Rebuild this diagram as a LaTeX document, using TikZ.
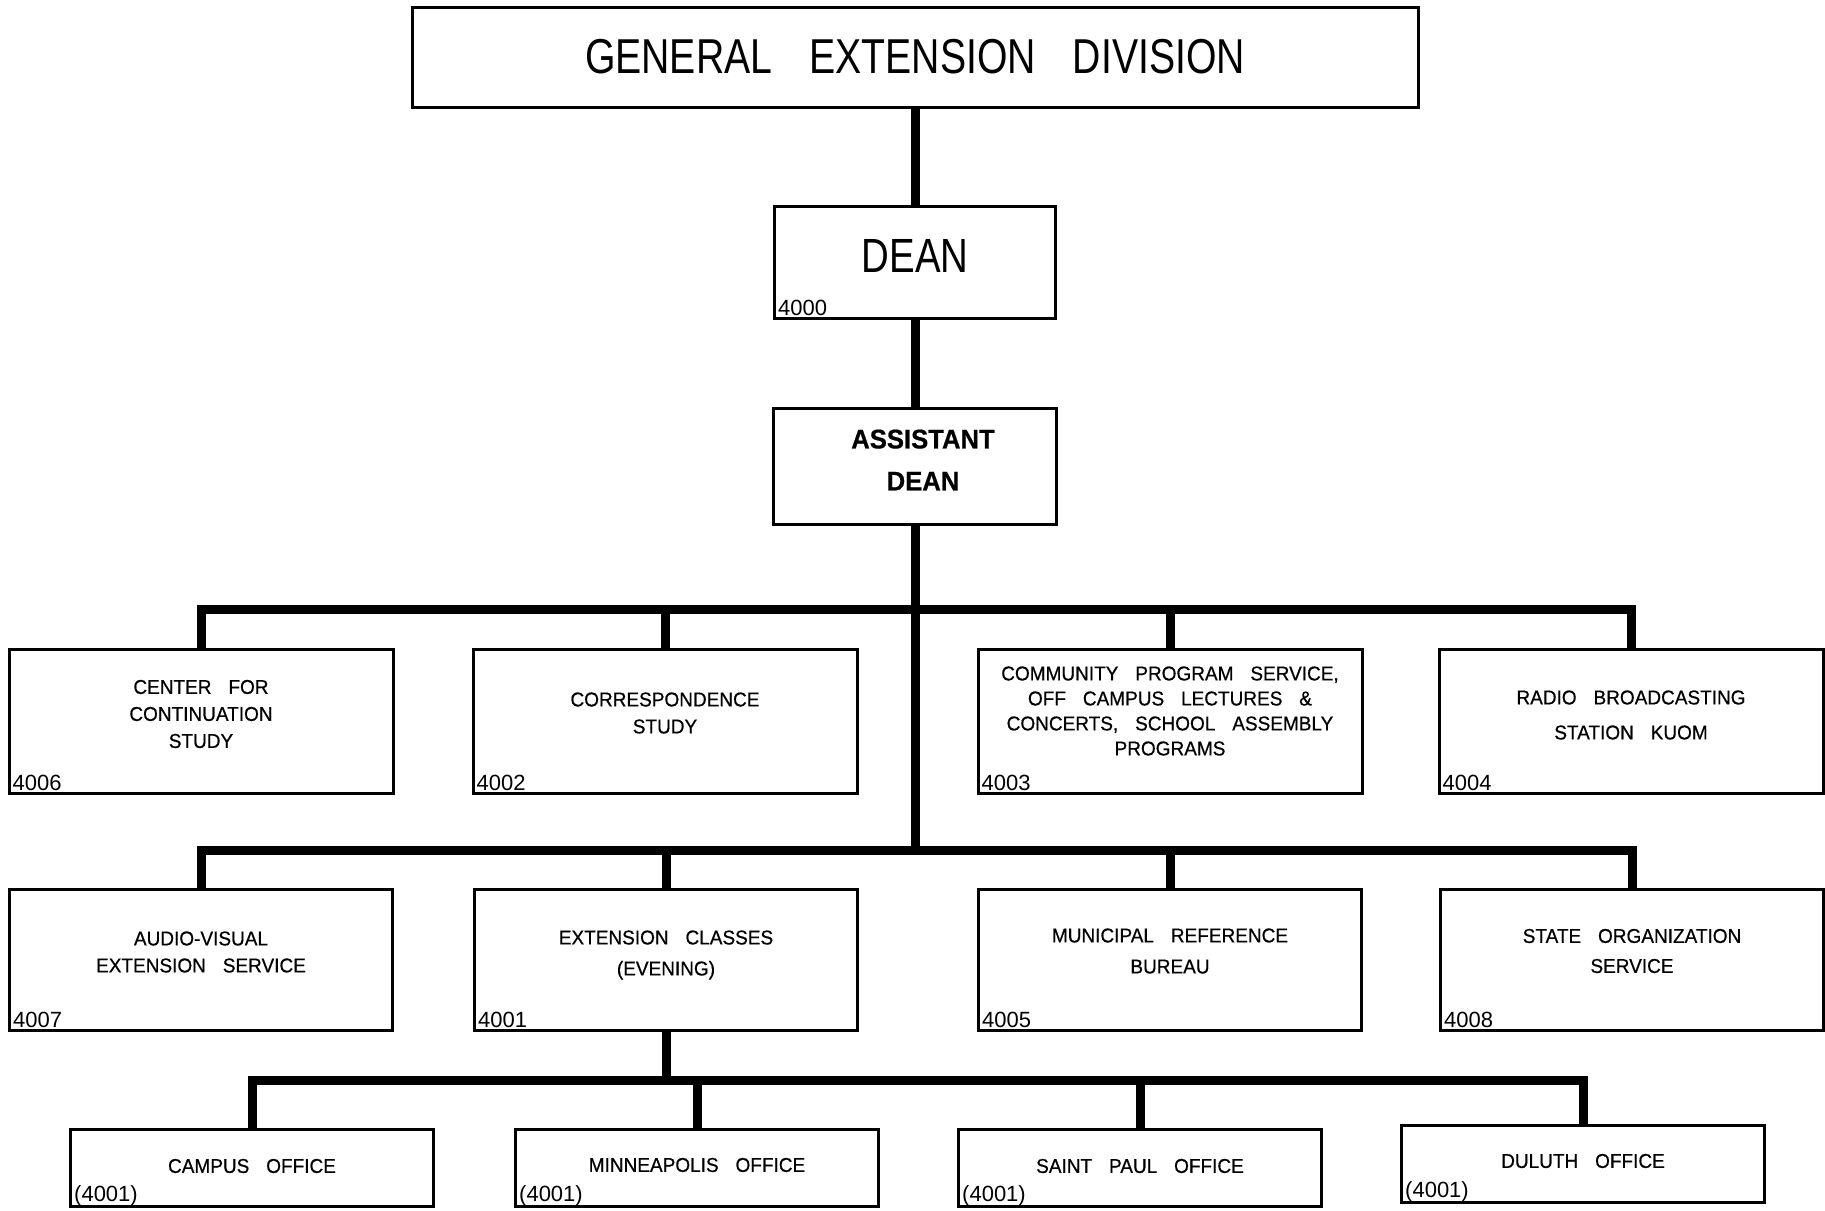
\documentclass[tikz,border=0pt]{standalone}
\usepackage{fontspec}
\setmainfont[FakeStretch=0.95, FakeBold=0.6, WordSpace=3.2]{Liberation Sans}
\newfontfamily\condfont[FakeStretch=0.8, WordSpace=3.4]{Liberation Sans}
\newfontfamily\numfont{Liberation Sans}

\tikzset{
  unit/.style={draw, line width=3pt, inner sep=0pt},
  rowone/.style={unit, minimum width=384pt, minimum height=144pt},
  rowtwo/.style={unit, minimum width=383pt, minimum height=141pt},
  office/.style={unit, minimum width=363pt, minimum height=77pt},
  caption/.style={align=center, inner sep=0pt, font=\fontsize{20}{27}\selectfont},
  code/.style={anchor=south west, inner sep=0pt, xshift=5pt, yshift=4pt,
    font=\numfont\fontsize{22}{22}\selectfont},
  link/.style={line width=9pt}
}

\begin{document}
\begin{tikzpicture}[x=1pt,y=-1pt]
    \useasboundingbox (0,0) rectangle (1825,1210);

    % top of the chart
    \node[unit, minimum width=1006pt, minimum height=100pt,
      font=\condfont\fontsize{49}{55}\selectfont] (ged) at (915,57) {GENERAL EXTENSION DIVISION};
    \node[unit, minimum width=281pt, minimum height=112pt] (dean) at (915,262) {};
    \node[caption, font=\condfont\fontsize{48}{48}\selectfont] (deant) at ([yshift=6pt]dean.center) {DEAN};
    \node[code] (n4000) at (dean.south west) {4000};
    \node[unit, minimum width=283pt, minimum height=116pt] (asst) at (915,466) {};
    \node[caption, font=\bfseries\fontsize{27}{42}\selectfont] (asstt) at ([xshift=8pt,yshift=6pt]asst.center) {ASSISTANT\\DEAN};

    \coordinate (j1) at (915,609);
    \coordinate (j2) at (915,850);
    \coordinate (j3) at (666,1080);

    % first row
    \node[rowone] (cont) at (201,721) {};
    \node[rowone] (corr) at (665,721) {};
    \node[rowone] (comm) at (1170,721) {};
    \node[rowone] (radio) at (1631,721) {};
    \node[caption] (contt) at ([yshift=7pt]cont.center) {CENTER FOR\\CONTINUATION\\STUDY};
    \node[caption] (corrt) at ([yshift=8pt]corr.center) {CORRESPONDENCE\\STUDY};
    \node[caption, font=\fontsize{20}{25}\selectfont] (commt) at ([yshift=10pt]comm.center)
      {COMMUNITY PROGRAM SERVICE,\\OFF CAMPUS LECTURES \&\\CONCERTS, SCHOOL ASSEMBLY\\PROGRAMS};
    \node[caption, font=\fontsize{20}{35}\selectfont] (radiot) at ([yshift=6pt]radio.center) {RADIO BROADCASTING\\STATION KUOM};
    \node[code] (n4006) at (cont.south west) {4006};
    \node[code] (n4002) at (corr.south west) {4002};
    \node[code] (n4003) at (comm.south west) {4003};
    \node[code] (n4004) at (radio.south west) {4004};

    % second row
    \node[rowtwo] (av) at (201,960) {};
    \node[rowtwo] (ecl) at (666,960) {};
    \node[rowtwo] (muni) at (1170,960) {};
    \node[rowtwo] (state) at (1632,960) {};
    \node[caption] (avt) at ([yshift=8pt]av.center) {AUDIO-VISUAL\\EXTENSION SERVICE};
    \node[caption, font=\fontsize{20}{31}\selectfont] (eclt) at ([yshift=5pt]ecl.center) {EXTENSION CLASSES\\(EVENING)};
    \node[caption, font=\fontsize{20}{31}\selectfont] (munit) at ([yshift=9pt]muni.center) {MUNICIPAL REFERENCE\\BUREAU};
    \node[caption, font=\fontsize{20}{30}\selectfont] (statet) at ([yshift=9pt]state.center) {STATE ORGANIZATION\\SERVICE};
    \node[code] (n4007) at (av.south west) {4007};
    \node[code] (n4001) at (ecl.south west) {4001};
    \node[code] (n4005) at (muni.south west) {4005};
    \node[code] (n4008) at (state.south west) {4008};

    % offices
    \node[office] (campus) at (252,1168) {};
    \node[office] (mpls) at (697,1168) {};
    \node[office] (stpaul) at (1140,1168) {};
    \node[office] (duluth) at (1583,1164) {};
    \node[caption] (campust) at ([yshift=2pt]campus.center) {CAMPUS OFFICE};
    \node[caption] (mplst) at ([yshift=3pt]mpls.center) {MINNEAPOLIS OFFICE};
    \node[caption] (stpault) at ([yshift=2pt]stpaul.center) {SAINT PAUL OFFICE};
    \node[caption] (duluths) at ([yshift=3pt]duluth.center) {DULUTH OFFICE};
    \foreach \b in {campus,mpls,stpaul,duluth}
        \node[code, yshift=-2pt] (\b n) at (\b.south west) {(4001)};

    % lines
    \draw[link] (ged) -- (dean);
    \draw[link] (dean) -- (asst);
    \draw[link] (asst) -- (j2);
    \draw[link] (cont.north) |- (j1) -| (radio.north);
    \foreach \b in {corr,comm}
        \draw[link] (\b.north) -- (\b.north |- j1);
    \draw[link] (av.north) |- (j2) -| (state.north);
    \foreach \b in {ecl,muni}
        \draw[link] (\b.north) -- (\b.north |- j2);
    \draw[link] (ecl) -- (j3);
    \draw[link] (campus.north) |- (j3) -| (duluth.north);
    \foreach \b in {mpls,stpaul}
        \draw[link] (\b.north) -- (\b.north |- j3);
\end{tikzpicture}
\end{document}
